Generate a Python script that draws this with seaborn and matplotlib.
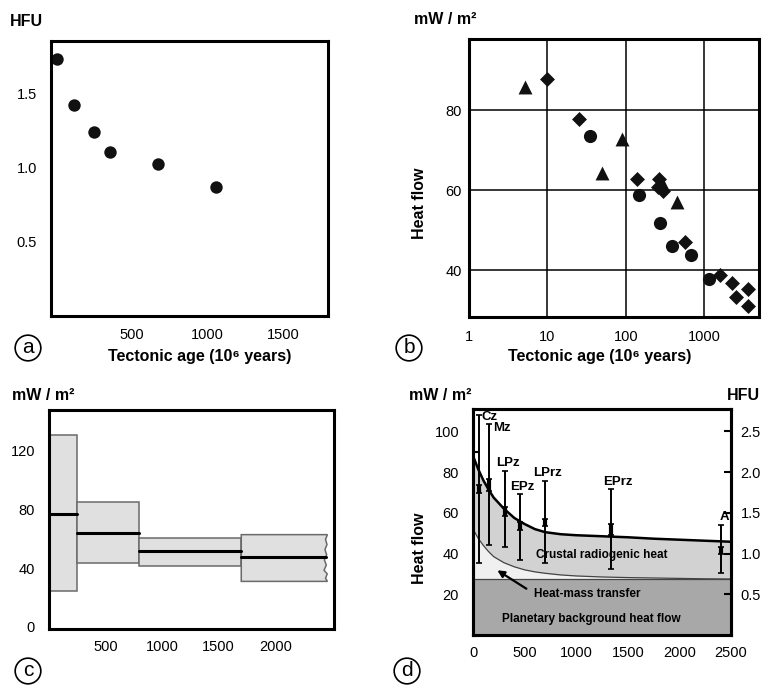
import numpy as np
import pandas as pd
import matplotlib
matplotlib.use('Agg')
import matplotlib.pyplot as plt
from matplotlib.ticker import FixedLocator, FormatStrFormatter
import seaborn as sns

# (a) heat flow vs tectonic age, HFU
a_age = [5, 120, 250, 360, 675, 1060]
a_hfu = [1.73, 1.42, 1.24, 1.10, 1.02, 0.87]

# (b) heat flow vs tectonic age (log), three data sets
b_circ_age = [35, 146, 277, 384, 676, 1135]
b_circ_q = [73.5, 58.9, 51.8, 46.0, 43.7, 37.7]
b_tri_age = [5.2, 50, 90, 290, 445]
b_tri_q = [85.7, 64.2, 72.9, 61.8, 57.0]
b_dia_age = [10, 25, 138, 265, 255, 300, 569, 1590, 2280, 2530, 3610, 3610]
b_dia_q = [87.8, 77.7, 62.8, 62.7, 60.8, 59.8, 47.1, 38.7, 36.8, 33.3, 35.2, 31.0]

# (c) heat flow ranges by age group
c_start = [0, 250, 800, 1700]
c_end = [250, 800, 1700, 2450]
c_low = [24.5, 43.3, 41.6, 30.9]
c_high = [130.7, 84.9, 60.7, 62.7]
c_mid = [77.0, 64.0, 51.3, 47.3]
c_tear_x = [2462, 2445, 2458, 2440, 2455, 2435, 2452, 2432, 2460, 2445, 2462]
c_tear_y = [62.7, 59.5, 56, 52.5, 49, 45.5, 42, 38.5, 36, 33, 30.9]

# (d) model curves and era data
d_curve_x = [0, 50, 100, 150, 200, 300, 400, 500, 600, 700, 850, 1000, 1250, 1500, 1750, 2000, 2250, 2500]
d_upper = [88, 81.5, 76, 71.5, 67.5, 62, 57.5, 54.5, 52, 50.5, 49.5, 49, 48.5, 48, 47.3, 46.8, 46.3, 45.8]
d_lower = [52, 47.5, 44, 41, 38.5, 35.5, 33.5, 32, 31, 30.3, 29.5, 29, 28.5, 28.2, 28, 27.8, 27.6, 27.5]
d_base = 27.5
d_era = ['Cz', 'Mz', 'LPz', 'EPz', 'LPrz', 'EPrz', 'A']
d_x = [55, 155, 313, 458, 700, 1342, 2406]
d_lo = [35.5, 44.3, 43.2, 37.0, 35.2, 32.2, 30.6]
d_hi = [108, 103.5, 80.5, 69.2, 75.5, 71.7, 54.1]
d_mid_lo = [69.5, 70.5, 58.5, 51.5, 53.3, 49.3, 40.0]
d_mid_hi = [73.7, 76.5, 63.0, 55.5, 57.0, 54.5, 43.3]
d_lab_x = [80, 195, 339, 474, 726, 1403, 2435]
d_lab_y = [107, 101.5, 84.5, 72.5, 79.8, 75, 58]

sns.set_style('white')
plt.rcParams['font.family'] = ['Liberation Sans', 'DejaVu Sans']
plt.rcParams['axes.linewidth'] = 2.2
plt.rcParams['axes.edgecolor'] = 'black'
plt.rcParams['text.color'] = 'black'
plt.rcParams['axes.labelcolor'] = 'black'
plt.rcParams['xtick.color'] = 'black'
plt.rcParams['ytick.color'] = 'black'

W, H = 762, 685
fig = plt.figure(figsize=(W / 100, H / 100), dpi=100)


def box(l, t, r, b):
    return [l / W, 1 - b / H, (r - l) / W, (b - t) / H]


lab = dict(fontsize=11.5, fontweight='bold')
tick_fs = 10.5

# ---------- (a)
ax = fig.add_axes(box(51, 41, 328, 316))
sns.scatterplot(x=a_age, y=a_hfu, ax=ax, color='#111111', s=80, edgecolor='#111111', linewidth=0)
ax.set_xlim(-33, 1797)
ax.set_ylim(0, 1.85)
ax.set_xticks([500, 1000, 1500])
ax.set_yticks([0.5, 1.0, 1.5])
ax.yaxis.set_major_formatter(FormatStrFormatter('%.1f'))
ax.tick_params(direction='in', length=5, width=2, labelsize=tick_fs)
ax.tick_params(axis='x', pad=9)
ax.tick_params(axis='y', pad=10)

# ---------- (b)
ax = fig.add_axes(box(469, 39, 759, 317))
sns.scatterplot(x=b_circ_age, y=b_circ_q, ax=ax, marker='o', color='#111111', s=90, linewidth=0)
sns.scatterplot(x=b_tri_age, y=b_tri_q, ax=ax, marker='^', color='#111111', s=100, linewidth=0)
sns.scatterplot(x=b_dia_age, y=b_dia_q, ax=ax, marker='D', color='#111111', s=58, linewidth=0)
ax.set_xscale('log')
ax.set_xlim(1, 5000)
ax.set_ylim(28.3, 97.8)
ax.set_xticks([1, 10, 100, 1000])
ax.set_xticklabels(['1', '10', '100', '1000'])
ax.xaxis.set_minor_locator(FixedLocator([]))
ax.set_yticks([40, 60, 80])
ax.grid(True, color='black', linewidth=1.1)
ax.tick_params(length=0, labelsize=tick_fs)
ax.tick_params(axis='x', pad=9)
ax.tick_params(axis='y', pad=5)

# ---------- (c)
ax = fig.add_axes(box(49, 410, 334, 629))
for i in range(len(c_start)):
    if i < len(c_start) - 1:
        xs = [c_start[i], c_end[i], c_end[i], c_start[i]]
        ys = [c_low[i], c_low[i], c_high[i], c_high[i]]
        ax.fill(xs, ys, facecolor='#e0e0e0', edgecolor='#6a6a6a', linewidth=1.1)
        ax.plot([c_start[i], c_end[i]], [c_mid[i], c_mid[i]], color='black', lw=2.2)
    else:
        xs = [c_start[i]] + c_tear_x + [c_start[i]]
        ys = [c_high[i]] + c_tear_y + [c_low[i]]
        ax.fill(xs, ys, facecolor='#e0e0e0', edgecolor='#6a6a6a', linewidth=1.1)
        ax.plot([c_start[i], c_tear_x[6]], [c_mid[i], c_mid[i]], color='black', lw=2.2)
ax.set_xlim(0, 2520)
ax.set_ylim(-1.5, 147.5)
ax.set_xticks([500, 1000, 1500, 2000])
ax.set_yticks([0, 40, 80, 120])
ax.yaxis.set_minor_locator(FixedLocator([20, 60, 100, 140]))
ax.tick_params(which='both', direction='in', length=5, width=2, labelsize=tick_fs)
ax.tick_params(axis='x', pad=8)
ax.tick_params(axis='y', pad=10)

# ---------- (d)
ax = fig.add_axes(box(473, 409, 731, 635))
ax.fill_between(d_curve_x, 0, d_base, color='#a8a8a8', linewidth=0)
ax.fill_between(d_curve_x, d_base, d_lower, color='#f0f0f0', linewidth=0)
ax.fill_between(d_curve_x, d_lower, d_upper, color='#d2d2d2', linewidth=0)
ax.plot([0, 2500], [d_base, d_base], color='#444444', lw=0.9)
sns.lineplot(x=d_curve_x, y=d_lower, ax=ax, color='#444444', lw=0.9)
sns.lineplot(x=d_curve_x, y=d_upper, ax=ax, color='black', lw=1.8)
lo = np.array(d_lo)
hi = np.array(d_hi)
mlo = np.array(d_mid_lo)
mhi = np.array(d_mid_hi)
mid = (mlo + mhi) / 2
ax.errorbar(d_x, mid, yerr=[mid - lo, hi - mid], fmt='none', ecolor='black',
            elinewidth=1.4, capsize=2.5, capthick=1.2, clip_on=False)
ax.errorbar(d_x, mid, yerr=[mid - mlo, mhi - mid], fmt='none', ecolor='black',
            elinewidth=3, capsize=2.5, capthick=1.2)
for name, x, y in zip(d_era, d_lab_x, d_lab_y):
    ha = 'left' if name in ('Cz', 'Mz') else 'center'
    ax.text(x, y, name, ha=ha, va='center', fontsize=9.5, fontweight='bold')
ax.text(1250, 39.5, 'Crustal radiogenic heat', ha='center', va='center', fontsize=8.5, fontweight='bold')
ax.text(1105, 20.3, 'Heat-mass transfer', ha='center', va='center', fontsize=8.5, fontweight='bold')
ax.text(1150, 8, 'Planetary background heat flow', ha='center', va='center', fontsize=8.5, fontweight='bold')
ax.annotate('', xy=(213, 32.5), xytext=(540, 22),
            arrowprops=dict(arrowstyle='-|>', color='black', lw=1.6, mutation_scale=10))
ax.set_xlim(0, 2500)
ax.set_ylim(0, 111)
ax.set_xticks([0, 500, 1000, 1500, 2000, 2500])
ax.set_yticks([20, 40, 60, 80, 100])
ax.yaxis.set_minor_locator(FixedLocator([10, 30, 50, 70, 90]))
ax.tick_params(axis='y', which='major', length=0, labelsize=tick_fs, pad=10)
ax.tick_params(axis='y', which='minor', direction='in', length=5, width=1.5)
ax.tick_params(axis='x', direction='in', length=6, width=1.5, labelsize=tick_fs, pad=8)
axr = ax.twinx()
axr.set_ylim(0, 111 / 40)
axr.set_yticks([0.5, 1.0, 1.5, 2.0, 2.5])
axr.yaxis.set_major_formatter(FormatStrFormatter('%.1f'))
axr.tick_params(direction='in', length=5, width=1.5, labelsize=tick_fs, pad=7)
for s in axr.spines.values():
    s.set_linewidth(2.2)

# ---------- labels
fig.text(10 / W, 1 - 22 / H, 'HFU', ha='left', va='center', **lab)
fig.text(200 / W, 1 - 357 / H, 'Tectonic age (10⁶ years)', ha='center', va='center', **lab)
fig.text(414 / W, 1 - 20 / H, 'mW / m²', ha='left', va='center', **lab)
fig.text(600 / W, 1 - 357 / H, 'Tectonic age (10⁶ years)', ha='center', va='center', **lab)
fig.text(419 / W, 1 - 203 / H, 'Heat flow', ha='center', va='center', rotation=90, **lab)
fig.text(12 / W, 1 - 395 / H, 'mW / m²', ha='left', va='center', **lab)
fig.text(409 / W, 1 - 395 / H, 'mW / m²', ha='left', va='center', **lab)
fig.text(760 / W, 1 - 395 / H, 'HFU', ha='right', va='center', **lab)
fig.text(419 / W, 1 - 548 / H, 'Heat flow', ha='center', va='center', rotation=90, **lab)

for letter, x, y in [('a', 28, 348), ('b', 409, 348), ('c', 28, 671), ('d', 407, 671)]:
    fig.text(x / W, 1 - y / H, letter, ha='center', va='center', fontsize=15,
             bbox=dict(boxstyle='circle,pad=0.16', fc='white', ec='black', lw=1.2))

fig.savefig('out.png', dpi=100)
